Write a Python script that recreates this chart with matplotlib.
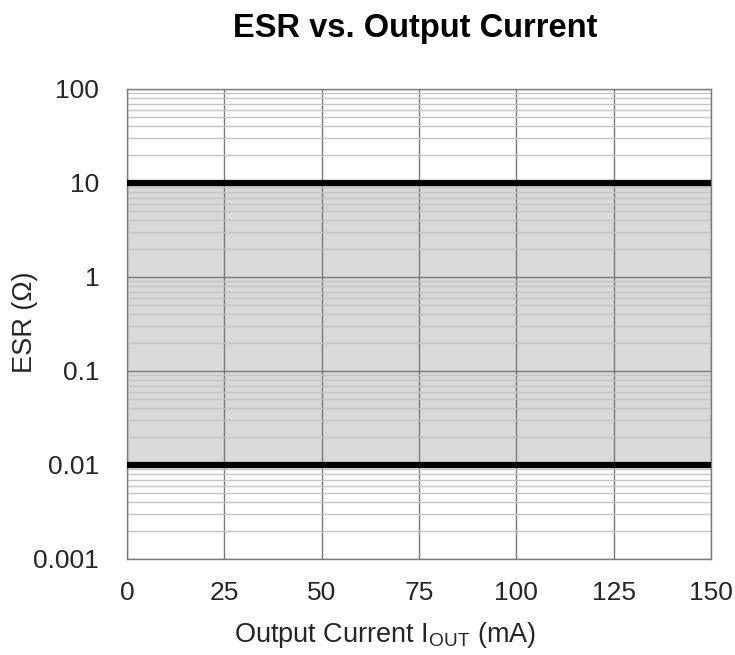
import matplotlib
matplotlib.use("Agg")
import matplotlib.pyplot as plt
from matplotlib.ticker import LogLocator, NullFormatter

plt.rcParams['font.family'] = ['Liberation Sans', 'DejaVu Sans']

x_range = [0, 150]
x_ticks = [0, 25, 50, 75, 100, 125, 150]
y_ticks = [0.001, 0.01, 0.1, 1, 10, 100]
y_tick_labels = ["0.001", "0.01", "0.1", "1", "10", "100"]
esr_min = 0.01
esr_max = 10

txt = '#262626'
fig = plt.figure(figsize=(7.35, 6.55), dpi=100)
ax = fig.add_axes([127/735, 1-559/655, (711-127)/735, (559-89)/655])
ax.set_yscale('log')
ax.set_xlim(*x_range)
ax.set_ylim(0.001, 100)

ax.fill_between(x_range, esr_min, esr_max, color='#d9d9d9', zorder=0, linewidth=0)
ax.set_axisbelow(True)
ax.yaxis.set_minor_locator(LogLocator(base=10, subs=range(2, 10)))
ax.yaxis.set_minor_formatter(NullFormatter())
ax.grid(which='minor', axis='y', color='#c4c4c4', linewidth=1.0, zorder=1)
ax.grid(which='major', axis='both', color='#7a7a7a', linewidth=1.0, zorder=1)
ax.tick_params(which='both', length=0)
ax.plot(x_range, [esr_max, esr_max], color='black', linewidth=4.5, zorder=3, solid_capstyle='butt')
ax.plot(x_range, [esr_min, esr_min], color='black', linewidth=4.5, zorder=3, solid_capstyle='butt')

ax.set_xticks(x_ticks)
ax.set_xticklabels([str(t) for t in x_ticks], fontsize=19, color=txt)
ax.set_yticks(y_ticks)
ax.set_yticklabels(y_tick_labels, fontsize=19, color=txt)
ax.tick_params(axis='x', pad=16)
ax.tick_params(axis='y', pad=20)
for s in ax.spines.values():
    s.set_color('#7a7a7a')
    s.set_linewidth(1.0)

fig.text(385/735, 1-635/655, r'Output Current I$_{\mathregular{OUT}}$ (mA)', fontsize=19.5,
         color=txt, ha='center', va='center')
fig.text(25/735, 1-322/655, 'ESR (Ω)', fontsize=19.5, color=txt, rotation=90,
         ha='center', va='center')
fig.text(415/735, 1-28/655, 'ESR vs. Output Current', fontsize=23.5, fontweight='bold',
         ha='center', va='center', color='black')

fig.savefig('out.png', dpi=100)
